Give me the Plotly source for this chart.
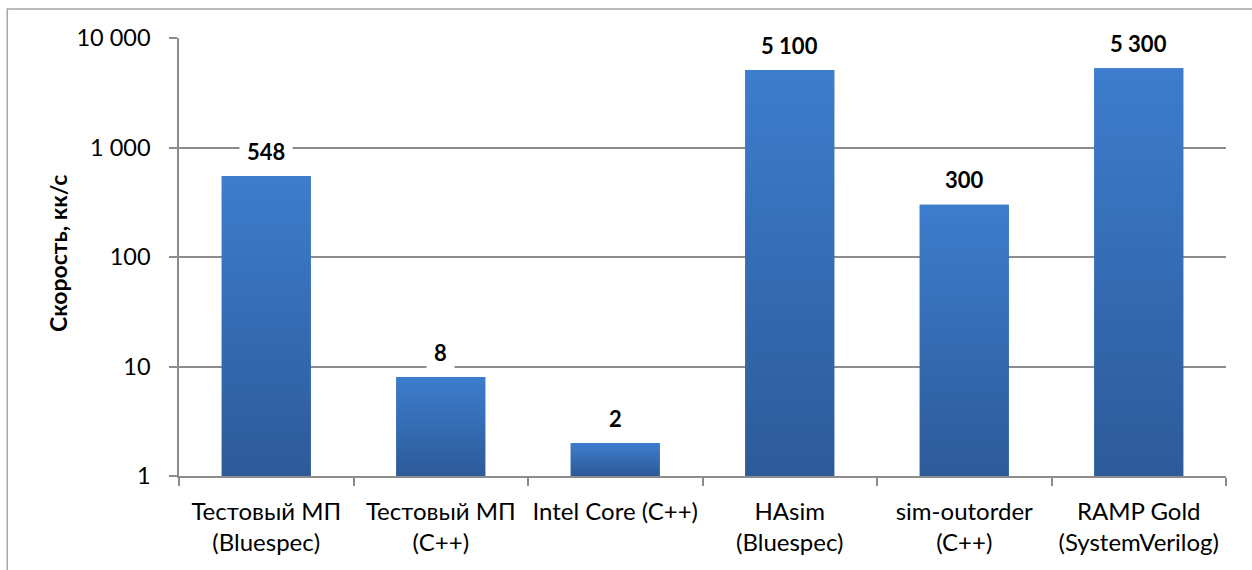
import numpy as np
import plotly.graph_objects as go

categories = [
    "Тестовый МП<br>(Bluespec)",
    "Тестовый МП<br>(C++)",
    "Intel Core (C++)<br> ",
    "HAsim<br>(Bluespec)",
    "sim-outorder<br>(C++)",
    "RAMP Gold<br>(SystemVerilog)",
]
speeds = [548, 8, 2, 5100, 300, 5300]
y_tick_vals = [1, 10, 100, 1000, 10000]
y_tick_text = ["1", "10", "100", "1 000", "10 000"]
y_title = "Скорость, кк/с"

FONT = "Lato"
GRID = "#8c8c8c"
BAR_TOP = "#3d7dcd"
BAR_BOTTOM = "#2d5a99"
BAR_W = 0.51

fig = go.Figure()
fig.add_trace(go.Bar(
    x=categories, y=speeds,
    marker=dict(color="#3569b3", line=dict(width=0)),
    hoverinfo="skip", showlegend=False,
))

# gradient overlays drawn on a hidden numeric twin of the category axis
for i, v in enumerate(speeds):
    fig.add_trace(go.Scatter(
        x=[i - BAR_W / 2, i + BAR_W / 2, i + BAR_W / 2, i - BAR_W / 2, i - BAR_W / 2],
        y=[1, 1, v, v, 1],
        xaxis="x2", yaxis="y",
        mode="lines", line=dict(width=0),
        fill="toself",
        fillgradient=dict(type="vertical", colorscale=[[0, BAR_BOTTOM], [1, BAR_TOP]]),
        hoverinfo="skip", showlegend=False,
    ))

annotations = []
for c, v in zip(categories, speeds):
    annotations.append(dict(
        x=c, y=np.log10(v), xref="x", yref="y",
        text=f"{v:,}".replace(",", " "),
        showarrow=False, yshift=25,
        font=dict(family=FONT, size=22, color="#000000", weight="bold"),
        bgcolor="#ffffff", borderpad=7,
    ))
annotations.append(dict(
    x=0, y=0.5, xref="paper", yref="paper", xshift=-121, yshift=3,
    xanchor="center", yanchor="middle",
    text=f"<b>{y_title}</b>", textangle=-90, showarrow=False,
    font=dict(family=FONT, size=23, color="#000000"),
))

fig.update_layout(
    width=1252, height=570,
    margin=dict(l=179, r=26, t=38, b=94, autoexpand=False),
    paper_bgcolor="#ffffff", plot_bgcolor="#ffffff",
    bargap=1 - BAR_W,
    font=dict(family=FONT, size=23, color="#000000"),
    xaxis=dict(
        type="category", tickson="boundaries", ticks="outside", ticklen=8,
        tickcolor=GRID, tickwidth=1.5, showline=True, linecolor=GRID, linewidth=1.5,
        showgrid=False, tickfont=dict(family=FONT, size=24, color="#000000"),
        tickangle=0, automargin=False,
        ticklabelstandoff=13, range=[-0.5, 5.5], fixedrange=True,
    ),
    xaxis2=dict(overlaying="x", range=[-0.5, 5.5], visible=False, fixedrange=True),
    yaxis=dict(
        type="log", range=[0, 4], tickvals=y_tick_vals, ticktext=y_tick_text,
        ticks="outside", ticklen=8, tickcolor=GRID, tickwidth=1.5,
        showline=True, linecolor=GRID, linewidth=1.5,
        showgrid=True, gridcolor=GRID, gridwidth=1.5, automargin=False,
        tickfont=dict(family=FONT, size=23.5, color="#000000"),
        ticklabelstandoff=14, fixedrange=True,
    ),
    annotations=annotations,
    shapes=[dict(
        type="rect", xref="paper", yref="paper",
        x0=-0.164, x1=1.2, y0=-0.5, y1=1.066,
        line=dict(color="#a6a6a6", width=1.5), fillcolor="rgba(0,0,0,0)", layer="below",
    )],
)

fig.write_html("out.html")
